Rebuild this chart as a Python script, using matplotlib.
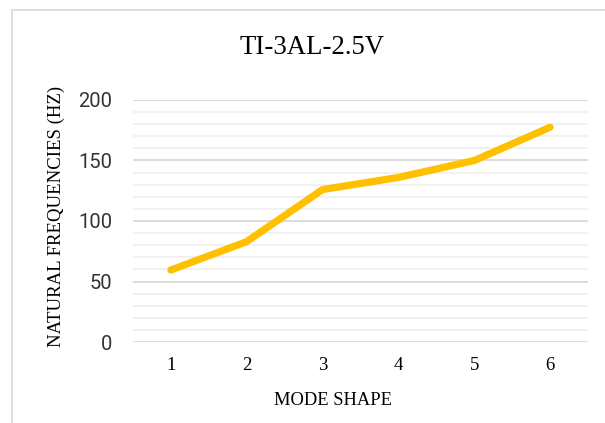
import matplotlib.pyplot as plt
from matplotlib.patches import Rectangle
from matplotlib.ticker import MultipleLocator

modes = [1, 2, 3, 4, 5, 6]
freqs = [59.5, 83, 126, 136, 150, 177.5]

fig = plt.figure(figsize=(6.05, 4.23), dpi=100)
W, H = 605, 423

# chart frame (cut off on the right and bottom)
fig.patches.append(Rectangle((12 / W, -0.05), 1.1, (H - 10) / H + 0.05,
                             transform=fig.transFigure, fill=False,
                             edgecolor="#d9d9d9", linewidth=1.2))

ax = fig.add_axes([133 / W, (H - 342) / H, (588 - 133) / W, (342 - 100) / H])
ax.plot(modes, freqs, color="#FFC000", linewidth=5.2, solid_capstyle="round",
        solid_joinstyle="round", zorder=3)

ax.set_xlim(0.5, 6.5)
ax.set_ylim(0, 200)
ax.yaxis.set_major_locator(MultipleLocator(50))
ax.yaxis.set_minor_locator(MultipleLocator(10))
ax.grid(which="major", axis="y", color="#d9d9d9", linewidth=1.3)
ax.grid(which="minor", axis="y", color="#f0f0f0", linewidth=1.3)
ax.set_axisbelow(True)
for s in ax.spines.values():
    s.set_visible(False)
ax.tick_params(which="both", length=0)
ax.tick_params(axis="y", pad=15, labelsize=14.5, labelcolor="#333333")
ax.tick_params(axis="x", pad=11, labelsize=13.5)
ax.set_xticks(modes)
for lbl in ax.get_xticklabels():
    lbl.set_family("Liberation Serif")
for lbl in ax.get_yticklabels():
    lbl.set_family("Roboto")

fig.text(312 / W, 1 - 47 / H, "TI-3AL-2.5V", family="Liberation Serif",
         fontsize=19.3, ha="center", va="center")
fig.text(333 / W, 1 - 400 / H, "MODE SHAPE", family="Liberation Serif",
         fontsize=13.3, ha="center", va="center")
fig.text(56 / W, 1 - 216 / H, "NATURAL FREQUENCIES (HZ)", family="Liberation Serif",
         fontsize=13.5, ha="center", va="center", rotation=90)

fig.savefig("out.png", dpi=100)
